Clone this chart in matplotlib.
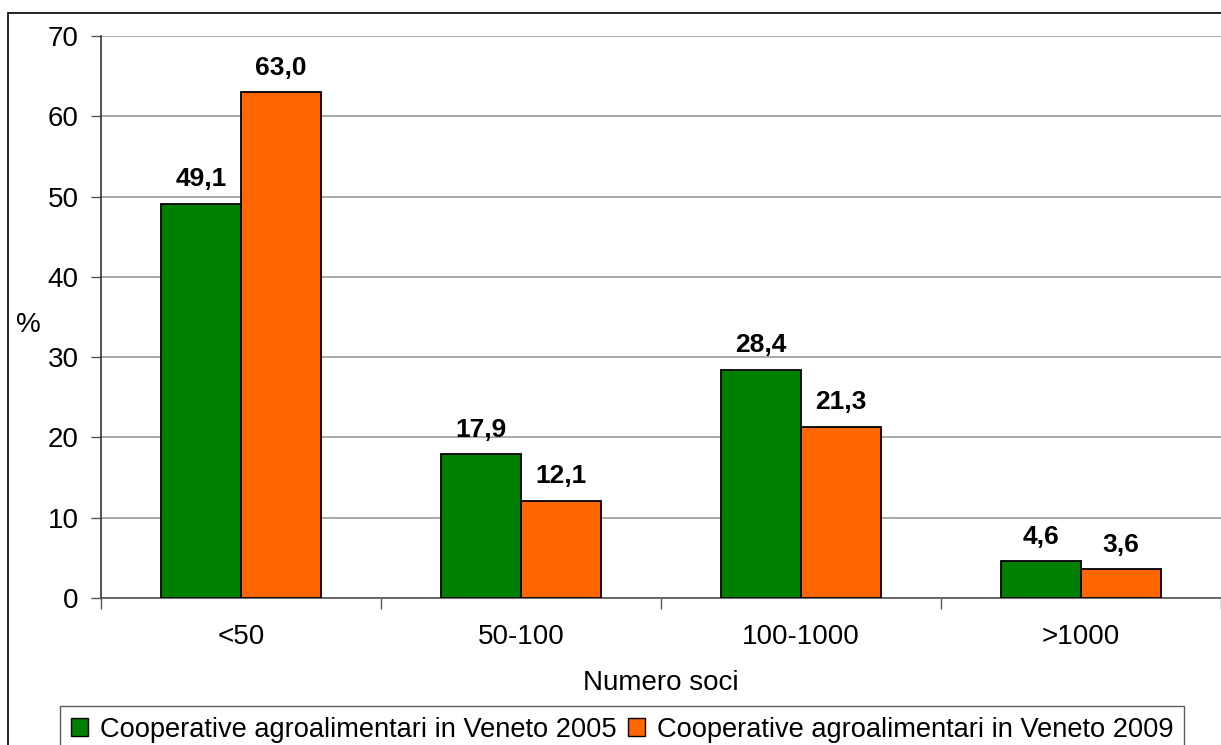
import matplotlib
matplotlib.use("Agg")
import matplotlib.pyplot as plt
from matplotlib.patches import Rectangle, Patch
import numpy as np

categories = ["<50", "50-100", "100-1000", ">1000"]
values_2005 = [49.1, 17.9, 28.4, 4.6]
values_2009 = [63.0, 12.1, 21.3, 3.6]
series_names = [
    "Cooperative agroalimentari in Veneto 2005",
    "Cooperative agroalimentari in Veneto 2009",
]
y_ticks = [0, 10, 20, 30, 40, 50, 60, 70]

GREEN = "#008000"
ORANGE = "#FF6600"
W, H = 1221, 745

plt.rcParams["font.family"] = ["Liberation Sans", "DejaVu Sans"]

fig = plt.figure(figsize=(W / 100, H / 100), dpi=100)
fig.patches.append(Rectangle((8 / W, -0.1), 1.2, 1 - 13 / H + 0.1,
                             transform=fig.transFigure, fill=False,
                             edgecolor="black", linewidth=1.2))

ax = fig.add_axes([101 / W, 1 - 598 / H, (W - 101) / W, (598 - 36) / H])

x = np.arange(len(categories))
bw = 0.285
b1 = ax.bar(x - bw / 2, values_2005, bw, color=GREEN, edgecolor="black", linewidth=1.3, zorder=3)
b2 = ax.bar(x + bw / 2, values_2009, bw, color=ORANGE, edgecolor="black", linewidth=1.3, zorder=3)

for bars, vals in ((b1, values_2005), (b2, values_2009)):
    for rect, v in zip(bars, vals):
        ax.annotate(f"{v:.1f}".replace(".", ","),
                    (rect.get_x() + rect.get_width() / 2, v),
                    xytext=(0, 9), textcoords="offset points",
                    ha="center", va="bottom", fontsize=19, fontweight="bold")

ax.set_ylim(0, 70)
ax.set_xlim(-0.5, 3.453)
ax.set_yticks(y_ticks)
ax.yaxis.grid(True, color="#999999", linewidth=1.2, zorder=0)
ax.set_axisbelow(True)

ax.set_xticks(np.arange(len(categories) + 1) - 0.5, minor=False)
ax.set_xticklabels([])
ax.set_xticks(x, minor=True)
ax.set_xticklabels(categories, minor=True)
ax.tick_params(axis="x", which="major", length=8, width=1, color="#555555", direction="out")
ax.tick_params(axis="x", which="minor", length=0, pad=19, labelsize=20)
ax.tick_params(axis="y", length=7, width=1, color="#555555", pad=9, labelsize=20)

for s in ("top", "right"):
    ax.spines[s].set_visible(False)
ax.spines["left"].set_color("#333333")
ax.spines["bottom"].set_color("#555555")
ax.spines["left"].set_linewidth(1.2)
ax.spines["bottom"].set_linewidth(1.2)

ax.set_xlabel("Numero soci", fontsize=20, labelpad=14)
fig.text(28 / W, 1 - 325 / H, "%", fontsize=20, ha="center", va="center")

handles = [Patch(facecolor=GREEN, edgecolor="black", linewidth=1),
           Patch(facecolor=ORANGE, edgecolor="black", linewidth=1)]
leg = fig.legend(handles, series_names, ncol=2, loc="upper left",
                 bbox_to_anchor=(60 / W, 1 - 706 / H), fontsize=19.6,
                 frameon=True, fancybox=False, edgecolor="#333333",
                 handlelength=0.63, handleheight=0.63, handletextpad=0.44,
                 columnspacing=0.4, borderpad=0.4, borderaxespad=0)
leg.get_frame().set_linewidth(1)

fig.savefig("out.png", dpi=100)
